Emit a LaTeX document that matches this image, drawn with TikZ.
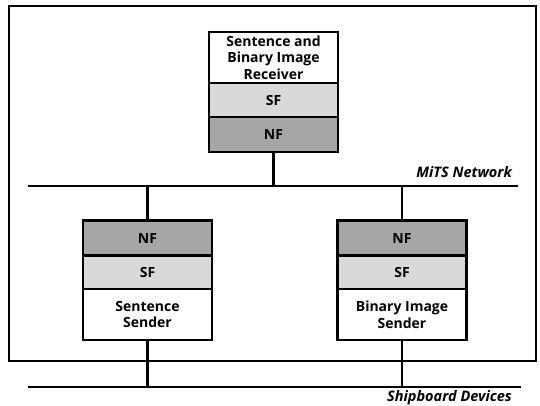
\documentclass[tikz,border=0pt]{standalone}
\usepackage{fontspec}
\setmainfont{Open Sans}
\definecolor{sfgray}{RGB}{217,217,217}
\definecolor{nfgray}{RGB}{166,166,166}
\begin{document}
\begin{tikzpicture}[x=1pt,y=-1pt,
  cell/.style={draw, line width=2.4pt, minimum width=129pt, inner sep=0pt, align=center,
    font=\bfseries\fontsize{14}{16.5}\selectfont},
  sfcell/.style={cell, fill=sfgray, minimum height=34pt},
  nfcell/.style={cell, fill=nfgray, minimum height=35pt},
  txtcell/.style={cell, fill=white, minimum height=51pt},
  bus/.style={line width=2.2pt},
  link/.style={line width=2.2pt},
  frame/.style={line width=2pt},
  buslabel/.style={anchor=base east, inner sep=0pt, font=\bfseries\itshape\fontsize{14.5}{17}\selectfont}]
\useasboundingbox (0,0) rectangle (540,405);
\draw[frame] (9,6) rectangle (536,361);
% top box
\node[txtcell] (ttx) at (273.5,57.5) {Sentence and\\Binary Image\\Receiver};
\node[sfcell] (tsf) at (273.5,100) {SF};
\node[nfcell] (tnf) at (273.5,134.5) {NF};
% left box
\node[nfcell] (lnf) at (147.5,238) {NF};
\node[sfcell] (lsf) at (147.5,272.5) {SF};
\node[txtcell] (ltx) at (147.5,314.5) {Sentence\\Sender};
% right box
\node[nfcell] (rnf) at (402,238) {NF};
\node[sfcell] (rsf) at (402,272.5) {SF};
\node[txtcell] (rtx) at (402,314.5) {Binary Image\\Sender};
% buses
\coordinate (m0) at (28,186);
\coordinate (m1) at (518,186);
\coordinate (mt) at (273.5,186);
\coordinate (ml) at (147.5,186);
\coordinate (mr) at (402,186);
\coordinate (s0) at (28,387);
\coordinate (s1) at (521,387);
\coordinate (sl) at (147.5,387);
\coordinate (sr) at (402,387);
\draw[bus] (m0) -- (m1);
\draw[bus] (s0) -- (s1);
\draw[link] (tnf.south) -- (mt);
\draw[link] (ml) -- (lnf.north);
\draw[link] (mr) -- (rnf.north);
\draw[link] (ltx.south) -- (sl);
\draw[link] (rtx.south) -- (sr);
\node[buslabel] (mits) at (512,177) {MiTS Network};
\node[buslabel] (ship) at (512,401) {Shipboard Devices};
\end{tikzpicture}
\end{document}
